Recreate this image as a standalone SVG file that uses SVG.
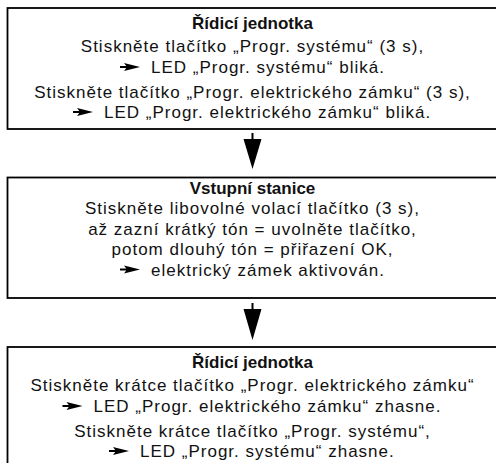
<svg xmlns="http://www.w3.org/2000/svg" width="496" height="463" viewBox="0 0 496 463">
<defs>
<style>
.box{fill:#fff;stroke:#000;stroke-width:1.8}
.t{font-family:"Liberation Sans",Arial,sans-serif;font-size:17px;letter-spacing:1px;fill:#111}
.h{font-family:"Liberation Sans",Arial,sans-serif;font-size:17px;font-weight:bold;fill:#111}
.c{text-anchor:middle}
.conn{stroke:#000;stroke-width:2;fill:none}
.head{fill:#000}
</style>
<path id="bullet" d="M0,-1 H8 V1 H0 Z M4,-4 L20,0 L4,4 L7,0 Z" fill="#000"/>
</defs>
<rect width="496" height="463" fill="#fff"/>
<g id="connectors">
<line class="conn" x1="252.5" y1="133" x2="252.5" y2="141"/>
<polygon class="head" points="243.5,139 261.5,139 252.5,169"/>
<line class="conn" x1="252.5" y1="303" x2="252.5" y2="311"/>
<polygon class="head" points="243.5,309 261.5,309 252.5,340"/>
</g>
<g id="node1">
<rect class="box" x="7.5" y="8" width="492" height="121"/>
<text class="h c" x="252.5" y="29">Řídicí jednotka</text>
<text class="t c" x="252.5" y="52">Stiskněte tlačítko „Progr. systému“ (3 s),</text>
<use href="#bullet" x="120" y="67"/>
<text class="t" x="151" y="73">LED „Progr. systému“ bliká.</text>
<text class="t c" x="252.5" y="98">Stiskněte tlačítko „Progr. elektrického zámku“ (3 s),</text>
<use href="#bullet" x="73" y="112"/>
<text class="t" x="104" y="118">LED „Progr. elektrického zámku“ bliká.</text>
</g>
<g id="node2">
<rect class="box" x="7.5" y="177.5" width="492" height="120.5"/>
<text class="h c" x="252.5" y="193.5">Vstupní stanice</text>
<text class="t c" x="252.5" y="214">Stiskněte libovolné volací tlačítko (3 s),</text>
<text class="t c" x="252.5" y="234.5">až zazní krátký tón = uvolněte tlačítko,</text>
<text class="t c" x="252.5" y="255">potom dlouhý tón = přiřazení OK,</text>
<use href="#bullet" x="120" y="269.5"/>
<text class="t" x="151" y="275.5">elektrický zámek aktivován.</text>
</g>
<g id="node3">
<rect class="box" x="7.5" y="347" width="492" height="125"/>
<text class="h c" x="252.5" y="368">Řídicí jednotka</text>
<text class="t c" x="252.5" y="391">Stiskněte krátce tlačítko „Progr. elektrického zámku“</text>
<use href="#bullet" x="62.5" y="406"/>
<text class="t" x="93.5" y="412">LED „Progr. elektrického zámku“ zhasne.</text>
<text class="t c" x="252.5" y="437">Stiskněte krátce tlačítko „Progr. systému“,</text>
<use href="#bullet" x="109" y="451"/>
<text class="t" x="140" y="457">LED „Progr. systému“ zhasne.</text>
</g>
</svg>
